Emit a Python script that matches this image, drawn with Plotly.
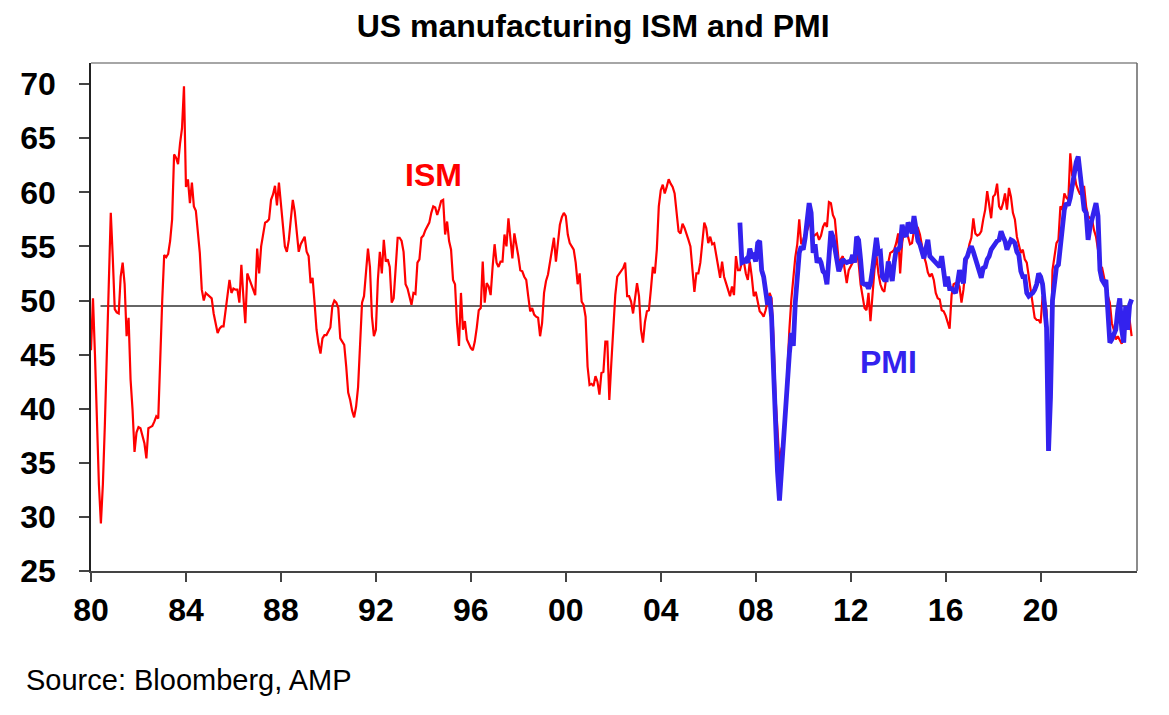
import plotly.graph_objects as go

# ---------------- data (monthly) ----------------
ism_start_year = 1980          # first ISM value = Jan 1980
pmi_start_year = 2007 + 4 / 12 # first PMI value = May 2007

ism = [
    45.4, 50.2, 45.0, 39.0, 33.0, 29.4, 33.0, 38.5, 45.4, 52.5, 58.1, 54.0,  # 1980
    49.2, 48.9, 48.8, 52.2, 53.5, 51.5, 46.7, 48.4, 42.7, 39.9, 36.0, 37.8,  # 1981
    38.3, 38.2, 37.4, 36.8, 35.4, 38.2, 38.3, 38.4, 38.8, 39.3, 39.1, 45.8,  # 1982
    50.0, 54.2, 54.0, 54.3, 55.5, 57.5, 63.5, 63.2, 62.6, 64.5, 65.9, 69.8,  # 1983
    60.5, 61.2, 59.0, 60.9, 58.7, 58.3, 56.0, 54.4, 51.0, 50.0, 50.7, 50.5,  # 1984
    50.4, 50.2, 48.8, 47.9, 47.0, 47.4, 47.6, 47.6, 49.0, 50.5, 51.9, 50.7,  # 1985
    51.1, 51.0, 51.0, 49.8, 53.3, 50.4, 47.9, 52.5, 52.0, 51.5, 51.0, 50.5,  # 1986
    54.8, 52.5, 55.0, 56.0, 57.2, 57.3, 57.5, 59.3, 59.8, 60.6, 58.8, 60.9,  # 1987
    59.0, 57.2, 55.0, 54.5, 55.6, 57.5, 59.3, 58.2, 56.0, 54.5, 55.2, 55.6,  # 1988
    55.9, 54.5, 54.1, 51.6, 52.1, 49.8, 47.3, 46.0, 45.1, 46.5, 46.8, 46.8,  # 1989
    47.1, 47.5, 49.5, 50.0, 49.8, 49.3, 46.5, 46.2, 45.9, 43.9, 41.5, 40.8,  # 1990
    39.8, 39.2, 40.2, 42.0, 45.5, 49.8, 50.4, 52.8, 54.8, 53.1, 48.5, 46.7,  # 1991
    47.3, 51.9, 54.5, 52.5, 55.6, 53.6, 53.8, 53.1, 49.8, 50.2, 53.5, 55.8,  # 1992
    55.8, 55.5, 54.5, 51.5, 51.1, 50.2, 49.6, 50.7, 50.6, 53.5, 53.8, 55.8,  # 1993
    56.0, 56.5, 56.9, 57.2, 58.1, 58.7, 58.6, 57.9, 58.5, 59.2, 59.3, 56.1,  # 1994
    57.3, 55.5, 54.7, 51.9, 51.5, 47.9, 45.8, 50.7, 47.3, 48.1, 46.4, 45.9,  # 1995
    45.6, 45.4, 46.2, 47.5, 49.1, 49.3, 53.6, 49.8, 51.6, 51.3, 50.5, 53.1,  # 1996
    55.2, 53.5, 53.1, 53.6, 53.6, 56.1, 55.0, 57.6, 55.9, 53.9, 56.2, 55.2,  # 1997
    54.1, 52.8, 52.7, 52.2, 51.9, 50.4, 49.0, 49.3, 48.7, 48.5, 48.4, 46.7,  # 1998
    47.9, 50.7, 51.8, 52.4, 53.5, 54.5, 55.8, 53.6, 55.3, 57.0, 57.7, 58.1,  # 1999
    57.8, 56.1, 55.3, 55.0, 54.7, 53.5, 51.5, 52.5, 49.9, 49.6, 48.5, 43.9,  # 2000
    42.2, 42.3, 42.1, 43.0, 42.5, 41.3, 43.3, 43.4, 46.2, 46.2, 40.8, 44.2,  # 2001
    47.9, 50.5, 52.2, 52.5, 52.8, 53.0, 53.5, 50.4, 50.4, 49.9, 48.8, 50.4,  # 2002
    51.6, 50.4, 47.3, 46.1, 48.0, 49.0, 49.1, 51.0, 53.1, 52.5, 54.7, 58.7,  # 2003
    60.2, 60.7, 59.9, 60.5, 61.2, 60.8, 60.5, 59.9, 58.4, 56.4, 56.2, 57.1,  # 2004
    56.7, 56.2, 55.6, 55.0, 52.8, 50.8, 52.5, 52.5, 53.5, 55.3, 57.2, 56.7,  # 2005
    55.3, 55.9, 55.2, 55.3, 54.2, 53.5, 52.1, 53.6, 52.2, 51.6, 51.0, 50.4,  # 2006
    51.3, 50.5, 54.1, 52.8, 52.8, 53.5, 53.6, 52.5, 51.9, 53.6, 52.2, 50.4,  # 2007
    50.8, 49.8, 49.0, 48.8, 48.5, 49.1, 50.0, 50.7, 50.2, 46.5, 41.1, 38.1,  # 2008
    35.0, 36.3, 36.8, 39.6, 44.2, 47.3, 50.1, 52.5, 54.0, 55.2, 57.5, 55.2,  # 2009
    55.6, 56.2, 56.5, 57.0, 57.5, 55.9, 56.1, 56.2, 55.6, 56.0, 56.8, 57.2,  # 2010
    56.8, 59.1, 59.0, 57.9, 57.5, 55.2, 53.5, 53.8, 54.1, 52.8, 51.6, 52.8,  # 2011
    53.1, 53.5, 54.1, 54.7, 53.5, 51.5, 50.4, 49.3, 49.1, 50.7, 48.1, 50.4,  # 2012
    52.8, 54.2, 52.5, 51.5, 51.0, 50.8, 52.2, 53.5, 54.4, 54.5, 54.7, 55.3,  # 2013
    56.2, 52.5, 55.3, 56.5, 56.2, 55.9, 55.2, 55.3, 56.5, 56.6, 56.7, 56.1,  # 2014
    55.0, 54.1, 53.5, 52.6, 52.2, 52.5, 51.9, 50.7, 50.2, 50.1, 49.1, 49.0,  # 2015
    48.6, 48.0, 47.4, 50.5, 51.5, 51.6, 51.6, 51.3, 49.8, 51.0, 53.0, 54.2,  # 2016
    55.2, 55.8, 57.6, 56.2, 56.0, 56.1, 56.4, 57.5, 58.4, 60.1, 58.7, 57.6,  # 2017
    59.6, 59.8, 60.8, 58.7, 58.4, 59.0, 59.9, 58.4, 60.4, 59.6, 58.1, 57.5,  # 2018
    55.9, 55.2, 54.4, 54.7, 53.8, 53.5, 52.2, 51.0, 49.3, 48.4, 48.2, 48.2,  # 2019
    47.9, 50.4, 50.1, 49.1, 41.5, 43.1, 52.8, 54.1, 55.3, 55.6, 58.7, 58.4,  # 2020
    59.9, 59.5, 59.3, 63.6, 61.5, 61.8, 60.7, 60.2, 59.8, 60.5, 60.5, 58.7,  # 2021
    57.8, 57.6, 57.5, 56.5, 55.9, 54.7, 52.8, 53.1, 52.2, 51.0, 50.4, 49.8,  # 2022
    47.9, 47.3, 46.4, 46.7, 46.4, 46.0, 46.7, 47.6, 48.0, 48.2, 46.7,        # 2023
]

pmi = [
    57.2, 53.5, 53.6, 53.8, 53.5, 54.8, 54.1, 54.2,                          # 2007 (May-Dec)
    53.6, 55.3, 55.5, 52.8, 52.2, 50.4, 49.6, 50.4, 48.5, 43.6, 38.5, 34.2,  # 2008
    31.5, 34.5, 36.0, 39.6, 42.4, 45.1, 47.0, 45.8, 49.8, 52.2, 54.4, 55.0,  # 2009
    54.7, 55.8, 57.5, 59.0, 58.1, 54.4, 55.2, 53.5, 53.9, 53.5, 52.7, 52.5,  # 2010
    51.5, 54.1, 56.4, 55.9, 54.7, 53.5, 52.7, 53.2, 53.8, 53.6, 53.5, 53.6,  # 2011
    53.6, 54.2, 53.5, 55.9, 55.6, 53.8, 51.6, 51.5, 51.5, 51.1, 51.6, 52.8,  # 2012
    54.7, 55.8, 54.4, 54.5, 52.2, 51.9, 51.9, 53.6, 52.8, 51.8, 53.5, 54.7,  # 2013
    54.7, 55.0, 57.0, 56.2, 55.9, 57.2, 56.8, 56.2, 57.8, 56.8, 55.5, 55.2,  # 2014
    54.4, 53.9, 54.8, 55.6, 54.1, 53.9, 53.8, 53.5, 53.3, 53.1, 54.1, 53.0,  # 2015
    51.3, 52.2, 51.1, 51.1, 50.9, 50.7, 51.6, 52.8, 52.1, 51.6, 53.8, 54.1,  # 2016
    54.7, 55.0, 54.5, 53.8, 53.3, 52.8, 52.1, 53.0, 53.1, 53.8, 54.1, 54.7,  # 2017
    55.0, 55.2, 55.5, 55.6, 56.4, 55.9, 55.5, 54.7, 55.2, 55.6, 55.5, 55.3,  # 2018
    54.5, 54.2, 52.7, 52.2, 52.2, 50.7, 50.4, 50.5, 50.7, 51.0, 51.5, 52.5,  # 2019
    52.2, 51.5, 49.8, 47.5, 36.1, 41.1, 50.0, 52.2, 53.1, 53.3, 55.3, 57.5,  # 2020
    58.4, 59.0, 58.8, 59.5, 60.8, 62.1, 62.8, 63.3, 61.5, 60.2, 58.4, 58.1,  # 2021
    55.6, 56.8, 57.5, 58.4, 59.0, 57.8, 52.8, 51.9, 51.6, 51.9, 49.5, 46.1,  # 2022
    46.4, 46.9, 47.3, 49.1, 50.2, 47.3, 46.1, 49.5, 47.3, 49.6, 50.1,        # 2023
]

threshold = 49.5
threshold_span = [1980.4, 2023.8]

tick_years = [1980, 1984, 1988, 1992, 1996, 2000, 2004, 2008, 2012, 2016, 2020]
tick_text = ["80", "84", "88", "92", "96", "00", "04", "08", "12", "16", "20"]
y_ticks = [25, 30, 35, 40, 45, 50, 55, 60, 65, 70]

x_ism = [ism_start_year + i / 12 for i in range(len(ism))]
x_pmi = [pmi_start_year + i / 12 for i in range(len(pmi))]

FONT = "Liberation Sans, Arial, Helvetica, sans-serif"
RED = "#FF0000"
BLUE = "#3322EE"

fig = go.Figure()
fig.add_trace(go.Scatter(x=threshold_span, y=[threshold, threshold], mode="lines",
                         line=dict(color="#333333", width=1.5), hoverinfo="skip",
                         showlegend=False))
fig.add_trace(go.Scatter(x=x_ism, y=ism, mode="lines", name="ISM",
                         line=dict(color=RED, width=2.2), showlegend=False))
fig.add_trace(go.Scatter(x=x_pmi, y=pmi, mode="lines", name="PMI",
                         line=dict(color=BLUE, width=4.8), showlegend=False))

# page body has an 8px margin, so the figure is sized/offset to compensate
fig.update_layout(
    width=1161, height=707,
    margin=dict(l=79, r=32, t=55, b=144),
    paper_bgcolor="white", plot_bgcolor="white",
    title=dict(text="<b>US manufacturing ISM and PMI</b>", x=0.504, xanchor="center",
               y=0.975, yanchor="middle", font=dict(family=FONT, size=32, color="black")),
    font=dict(family=FONT, color="black"),
)
fig.update_xaxes(range=[1980, 2024.06], tickvals=tick_years, ticktext=tick_text,
                 showgrid=False, zeroline=False, showline=True, linecolor="#444444",
                 linewidth=1.5, ticks="outside", ticklen=9, tickwidth=1.5,
                 tickcolor="#444444", ticklabelstandoff=1,
                 tickfont=dict(family=FONT, size=32, color="black", weight="bold"))
fig.update_yaxes(range=[25, 71.95], tickvals=y_ticks, showgrid=False, zeroline=False,
                 showline=True, linecolor="#222222", linewidth=1.5, ticks="outside",
                 ticklen=10, tickwidth=1.5, tickcolor="#444444", ticklabelstandoff=17,
                 tickfont=dict(family=FONT, size=32, color="black", weight="bold"))

# plot-area frame (top and right edges)
fig.add_shape(type="line", xref="paper", yref="paper", x0=0, x1=1, y0=1, y1=1,
              line=dict(color="#888888", width=1.5))
fig.add_shape(type="line", xref="paper", yref="paper", x0=1, x1=1, y0=0, y1=1,
              line=dict(color="#666666", width=1.5))

fig.add_annotation(x=1994.44, y=61.6, xref="x", yref="y", text="<b>ISM</b>",
                   showarrow=False, font=dict(family=FONT, size=32, color=RED))
fig.add_annotation(x=2013.6, y=44.3, xref="x", yref="y", text="<b>PMI</b>",
                   showarrow=False, font=dict(family=FONT, size=32, color=BLUE))
fig.add_annotation(x=-0.0638, y=-0.2146, xref="paper", yref="paper",
                   text="Source: Bloomberg, AMP", showarrow=False,
                   xanchor="left", yanchor="middle",
                   font=dict(family=FONT, size=29, color="black"))

fig.write_html("out.html")
